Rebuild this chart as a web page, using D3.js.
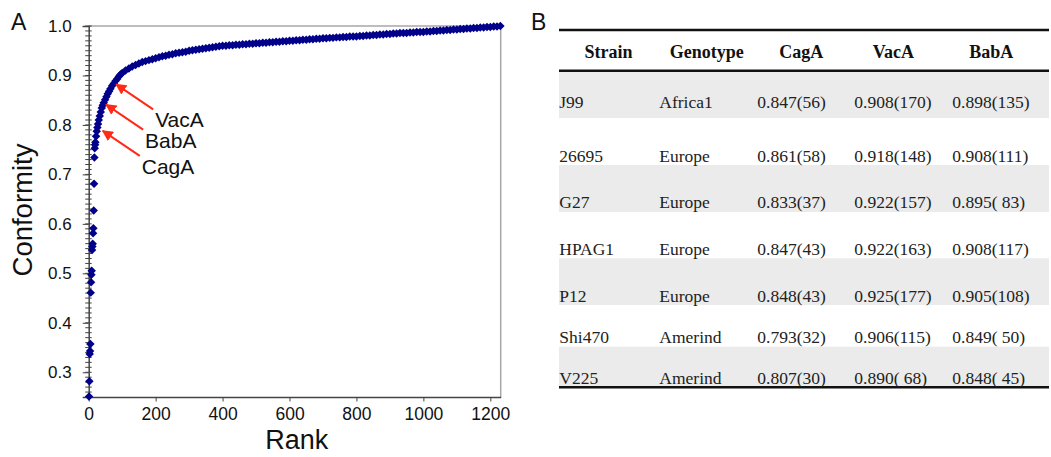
<!DOCTYPE html>
<html>
<head>
<meta charset="utf-8">
<script src="https://cdn.jsdelivr.net/npm/d3@7"></script>
<style>
body { margin: 0; background: #fff; }
svg { display: block; }
.sans { font-family: "Liberation Sans", Arial, sans-serif; }
.serif { font-family: "Liberation Serif", "Times New Roman", serif; white-space: pre; }
</style>
</head>
<body>
<svg id="fig" width="1051" height="457"></svg>
<script>
// ---- panel A data: conformity sorted by rank ----
const ranks = [
    1, 2, 3, 4, 5, 6, 7, 8, 9, 10, 11, 12, 13, 14, 15, 16, 17, 18, 19, 20,
    22, 24, 26, 28, 30, 33, 36, 39, 42, 45, 49, 53, 57, 61, 65, 70, 75, 80, 85, 90, 95,
    100, 110, 120, 130, 140, 150, 160, 170, 180, 190, 200, 210, 220, 230, 240, 250,
    260, 270, 280, 290, 300, 310, 320, 330, 340, 350, 360, 370, 380, 390, 400,
    410, 420, 430, 440, 450, 460, 470, 480, 490, 500, 510, 520, 530, 540, 550,
    560, 570, 580, 590, 600, 610, 620, 630, 640, 650, 660, 670, 680, 690, 700,
    710, 720, 730, 740, 750, 760, 770, 780, 790, 800, 810, 820, 830, 840, 850,
    860, 870, 880, 890, 900, 910, 920, 930, 940, 950, 960, 970, 980, 990, 1000,
    1010, 1020, 1030, 1040, 1050, 1060, 1070, 1080, 1090, 1100, 1110, 1120, 1130,
    1140, 1150, 1160, 1170, 1180, 1190, 1200, 1210, 1220, 1230
];
const conformity = [
    0.251, 0.282, 0.337, 0.343, 0.357, 0.461, 0.482, 0.497, 0.505, 0.547,
    0.554, 0.560, 0.581, 0.591, 0.627, 0.681, 0.734, 0.753, 0.760, 0.765,
    0.777, 0.787, 0.795, 0.802, 0.810, 0.818, 0.826, 0.834, 0.840, 0.845, 0.851,
    0.857, 0.863, 0.868, 0.873, 0.879, 0.884, 0.889, 0.893, 0.898, 0.902,
    0.905, 0.910, 0.914, 0.918, 0.921, 0.924, 0.927, 0.929, 0.931, 0.933, 0.935,
    0.937, 0.939, 0.940, 0.942, 0.943, 0.945, 0.946, 0.947, 0.948, 0.950,
    0.951, 0.952, 0.953, 0.954, 0.955, 0.956, 0.957, 0.958, 0.959, 0.960,
    0.960, 0.961, 0.961, 0.962, 0.962, 0.963, 0.963, 0.964, 0.964, 0.965,
    0.965, 0.966, 0.966, 0.967, 0.967, 0.968, 0.968, 0.969, 0.969, 0.970,
    0.970, 0.971, 0.971, 0.972, 0.972, 0.973, 0.973, 0.974, 0.974, 0.975,
    0.975, 0.976, 0.976, 0.977, 0.977, 0.978, 0.978, 0.979, 0.979, 0.979,
    0.980, 0.980, 0.981, 0.981, 0.982, 0.982, 0.983, 0.983, 0.984, 0.984,
    0.985, 0.985, 0.986, 0.986, 0.986, 0.987, 0.987, 0.988, 0.988, 0.988,
    0.989, 0.989, 0.990, 0.990, 0.991, 0.991, 0.992, 0.992, 0.993, 0.993,
    0.994, 0.994, 0.995, 0.995, 0.996, 0.996, 0.997, 0.997, 0.998, 0.998,
    0.999, 0.999, 1.000
];
const xTicks = [0, 200, 400, 600, 800, 1000, 1200];
const yTicks = [0.3, 0.4, 0.5, 0.6, 0.7, 0.8, 0.9, 1.0];

// arrows pointing at the three genes
const calloutLabels = ["VacA", "BabA", "CagA"];
const calloutRank = [79, 49, 39];
const calloutValue = [0.884, 0.843, 0.790];

// ---- panel B data ----
const headers = ["Strain", "Genotype", "CagA", "VacA", "BabA"];
const strains = ["J99", "26695", "G27", "HPAG1", "P12", "Shi470", "V225"];
const genotypes = ["Africa1", "Europe", "Europe", "Europe", "Europe", "Amerind", "Amerind"];
const cagA = ["0.847(56)", "0.861(58)", "0.833(37)", "0.847(43)", "0.848(43)", "0.793(32)", "0.807(30)"];
const vacA = ["0.908(170)", "0.918(148)", "0.922(157)", "0.922(163)", "0.925(177)", "0.906(115)", "0.890( 68)"];
const babA = ["0.898(135)", "0.908(111)", "0.895( 83)", "0.908(117)", "0.905(108)", "0.849( 50)", "0.848( 45)"];

const svg = d3.select("#fig");

// ================= panel A =================
const x = d3.scaleLinear().domain([0, 1231]).range([88.7, 500.7]);
const y = d3.scaleLinear().domain([0.25, 1.0]).range([397, 26]);

const A = svg.append("g").attr("class", "sans");

// frame (top/right light gray)
A.append("path")
    .attr("d", `M${x(0)},${y(1)}H${x(1231)}V${y(0.25)}`)
    .attr("fill", "none")
    .attr("stroke", "#a8a8a8")
    .attr("stroke-width", 1.5);

// minor y ticks, crossing the axis
const minor = d3.range(25, 101).map(d => d / 100);
A.append("g").selectAll("line")
    .data(minor)
    .join("line")
    .attr("x1", x(0) - 3.5).attr("x2", x(0) + 3)
    .attr("y1", d => y(d)).attr("y2", d => y(d))
    .attr("stroke", "#444").attr("stroke-width", 1);

// y axis
const yAxis = d3.axisLeft(y).tickValues(yTicks).tickSize(6).tickPadding(11).tickFormat(d3.format(".1f"));
const gy = A.append("g").attr("transform", `translate(${x(0)},0)`).call(yAxis);
gy.select(".domain").attr("stroke", "#444").attr("stroke-width", 1.5);
gy.selectAll(".tick line").attr("stroke", "#444");
gy.selectAll("text").attr("font-size", 17).attr("fill", "#111").attr("font-family", "Liberation Sans, Arial, sans-serif");

// x axis
const xAxis = d3.axisBottom(x).tickValues(xTicks).tickSize(4.5).tickPadding(6).tickSizeOuter(0).tickFormat(d3.format("d"));
const gx = A.append("g").attr("transform", `translate(0,${y(0.25)})`).call(xAxis);
gx.select(".domain").attr("stroke", "#444").attr("stroke-width", 1.5);
gx.selectAll(".tick line").attr("stroke", "#444");
gx.selectAll("text").attr("font-size", 17.5).attr("fill", "#111").attr("font-family", "Liberation Sans, Arial, sans-serif");

// points (diamonds)
const diamond = d3.symbol().type(d3.symbolSquare).size(36);
A.append("g").selectAll("path")
    .data(ranks.map((r, i) => ({ r, v: conformity[i] })))
    .join("path")
    .attr("d", diamond)
    .attr("transform", d => `translate(${x(d.r)},${y(d.v)}) rotate(45)`)
    .attr("fill", "#00008a");

// callout arrows
const defs = svg.append("defs");
defs.append("marker")
    .attr("id", "head")
    .attr("viewBox", "0 0 10 10")
    .attr("refX", 9).attr("refY", 5)
    .attr("markerWidth", 5.5).attr("markerHeight", 5.5)
    .attr("markerUnits", "strokeWidth")
    .attr("orient", "auto")
    .append("path")
    .attr("d", "M0,0L10,5L0,10Z")
    .attr("fill", "#ff2a17");

const callouts = calloutLabels.map((t, i) => ({ t, px: x(calloutRank[i]), py: y(calloutValue[i]) }));
A.append("g").selectAll("line")
    .data(callouts)
    .join("line")
    .attr("x1", d => d.px + 38).attr("y1", d => d.py + 26)
    .attr("x2", d => d.px + 1).attr("y2", d => d.py + 1)
    .attr("stroke", "#ff2a17").attr("stroke-width", 2)
    .attr("marker-end", "url(#head)");

A.append("g").selectAll("text")
    .data(callouts)
    .join("text")
    .attr("x", d => d.px + 40).attr("y", d => d.py + 44)
    .attr("font-size", 21).attr("fill", "#111")
    .text(d => d.t);

// axis titles
A.append("text")
    .attr("x", (x(0) + x(1231)) / 2 + 2).attr("y", 449)
    .attr("text-anchor", "middle").attr("font-size", 27).attr("fill", "#111")
    .text("Rank");
A.append("text")
    .attr("transform", `translate(32,210) rotate(-90)`)
    .attr("text-anchor", "middle").attr("font-size", 27.5).attr("fill", "#111")
    .text("Conformity");

// panel letter
A.append("text").attr("x", 11).attr("y", 30).attr("font-size", 23).attr("fill", "#111").text("A");

// ================= panel B =================
const B = svg.append("g");
B.append("text").attr("class", "sans").attr("x", 531).attr("y", 29.5).attr("font-size", 23).attr("fill", "#111").text("B");

const tblX0 = 559, tblX1 = 1049;
const colX = [559.3, 659.3, 757.3, 854.3, 952.3];
const headCX = [608.5, 706.7, 801.3, 893.3, 991.3];
const rowBase = [108, 162, 208.3, 255, 301.7, 343.3, 384];
const bands = [[72, 118], [165, 212], [258.3, 305], [346.7, 386]];

// shaded rows
B.append("g").selectAll("rect")
    .data(bands)
    .join("rect")
    .attr("x", tblX0).attr("width", tblX1 - tblX0)
    .attr("y", d => d[0]).attr("height", d => d[1] - d[0])
    .attr("fill", "#ebebeb");

// rules
B.append("g").selectAll("line")
    .data([30, 70.7, 387.3])
    .join("line")
    .attr("x1", tblX0).attr("x2", tblX1)
    .attr("y1", d => d).attr("y2", d => d)
    .attr("stroke", "#111").attr("stroke-width", 2.6);

// header
B.append("g").selectAll("text")
    .data(headers)
    .join("text")
    .attr("class", "serif")
    .attr("x", (d, i) => headCX[i]).attr("y", 58.3)
    .attr("text-anchor", "middle")
    .attr("font-size", 18).attr("font-weight", "bold").attr("fill", "#111")
    .text(d => d);

// body
const rows = strains.map((s, i) => [s, genotypes[i], cagA[i], vacA[i], babA[i]]);
const rowG = B.append("g").selectAll("g")
    .data(rows)
    .join("g")
    .attr("transform", (d, i) => `translate(0,${rowBase[i]})`);
rowG.selectAll("text")
    .data(d => d)
    .join("text")
    .attr("class", "serif")
    .attr("x", (d, i) => colX[i])
    .attr("font-size", 17.5).attr("fill", "#222")
    .text(d => d);
</script>
</body>
</html>
